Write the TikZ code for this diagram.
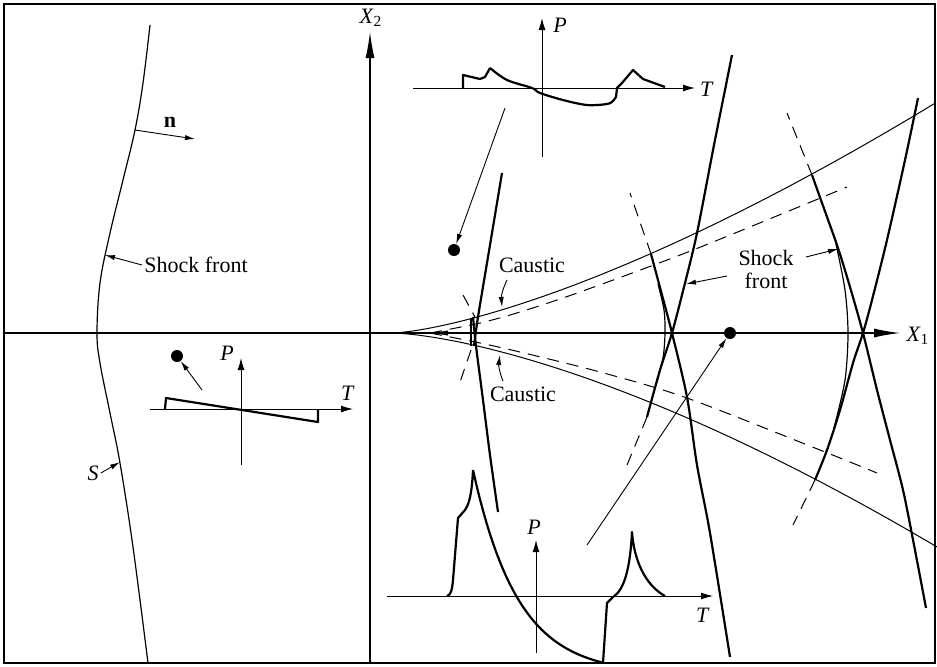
\documentclass[tikz,border=0pt]{standalone}
\usepackage{fontspec}
\setmainfont{Liberation Serif}
\usetikzlibrary{arrows.meta}

\begin{document}
\begin{tikzpicture}[
  x=0.5pt, y=-0.5pt,
  font=\fontsize{11}{11.5}\selectfont,
  inner sep=1pt,
  front/.style={line width=1.1pt},
  arcline/.style={line width=0.6pt},
  caustic/.style={line width=0.5pt},
  virtual/.style={line width=0.5pt, dash pattern=on 6pt off 4pt},
  wave/.style={line width=1.1pt, line join=round},
  axis/.style={line width=0.5pt, -{Latex[length=6pt,width=3.5pt]}},
  mainaxis/.style={line width=0.6pt, -{Latex[length=13pt,width=4.5pt]}},
  ptr/.style={line width=0.45pt, -{Latex[length=5pt,width=2.6pt]}},
  dot/.style={circle, fill, inner sep=0pt, minimum size=6pt}
]
\useasboundingbox (0,0) rectangle (937,666);
\draw[line width=0.7pt] (4,4) rectangle (935,663);

% main axes
\coordinate (x1start) at (4,333);
\coordinate (x1end) at (900,333);
\coordinate (x2start) at (370,663);
\coordinate (x2end) at (370,32);
\draw[mainaxis] (x1start) -- (x1end);
\draw[mainaxis] (x2start) -- (x2end);
\node (x1lab) at (918,336) {\textit{X}\textsubscript{1}};
\node (x2lab) at (371,18) {\textit{X}\textsubscript{2}};

% plane shock front S
\draw[line width=0.6pt] plot[smooth, tension=0.6] coordinates {(150,25) (143,83) (135,130) (123,180) (110,233) (100,283) (97,333) (100,363) (110,413) (120,463) (133,547) (148,663)};
\node (nlab) at (170,122) {\textbf{n}};
\coordinate (nfoot) at (135,130);
\coordinate (nhead) at (195,139);
\draw[ptr] (nfoot) -- (nhead);
\node (sfleft) at (196,265) {Shock front};
\coordinate (sftip) at (105,255);
\draw[ptr] (sfleft.west) -- (sftip);
\node (slab) at (93,473) {\textit{S}};
\coordinate (stip) at (120,462);
\draw[ptr] (slab.east) -- (stip);

% left signature
\draw[axis] (150,409) -- (353,409);
\draw[axis] (241,465) -- (241,358);
\node (tleft) at (348,393) {\textit{T}};
\node (pleft) at (227,353) {\textit{P}};
\draw[wave] (165,409) -- (166,398) -- (318,422) -- (318,409);
\node[dot] (ldot) at (177,356) {};
\coordinate (lfoot) at (202,390);
\draw[ptr] (lfoot) -- (ldot);

% caustics
\draw[caustic] plot[domain=0.2:542, samples=80] ({393+\x}, {333-20.5*(\x/100)^1.43});
\draw[caustic] plot[domain=0.2:544, samples=80] ({393+\x}, {333+16.75*(\x/100)^1.504});
\draw[virtual] plot[smooth] coordinates {(430,333) (480,323) (520,312) (580,292) (693,250) (847,187)};
\draw[virtual] plot[smooth] coordinates {(430,333) (480,343) (520,352) (600,372) (687,398) (825,452) (877,473)};
\fill (433,333) -- (448,330.5) -- (448,335.5) -- cycle;

% front near the cusp
\draw[front] plot[smooth] coordinates {(502,173) (490,245) (478,317) (474,346)};
\draw[front] plot[smooth] coordinates {(473,317) (476,346) (483,400) (490,455) (498,512)};
\draw[front] (471,318) -- (471,346);
\draw[virtual] (463,295) -- (475,317);
\draw[virtual] (471,350) -- (460,382);

% middle front
\draw[front] plot[smooth] coordinates {(732,55) (714,145) (697,233) (685,283) (672,333) (660,370) (647,417)};
\draw[front] plot[smooth] coordinates {(651,254) (662,295) (672,333) (687,397) (697,465) (710,533) (730,657)};
\draw[arcline] plot[smooth] coordinates {(658,284) (664,310) (665,333) (663,358) (656,385)};
\draw[virtual] (651,254) -- (630,193);
\draw[virtual] (647,417) -- (627,465);

% right front
\draw[front] plot[smooth] coordinates {(918,98) (905,160) (887,240) (872,300) (863,333) (853,363) (840,410) (827,450) (815,480)};
\draw[front] plot[smooth] coordinates {(812,175) (822,203) (838,248) (850,287) (863,333) (877,390) (890,440) (903,490) (914,545) (926,608)};
\draw[arcline] plot[smooth] coordinates {(836,244) (845,290) (848,333) (845,380) (834,428)};
\draw[virtual] (812,175) -- (787,113);
\draw[virtual] (815,480) -- (793,525);

% labels on the right
\node (caus1) at (532,265) {Caustic};
\coordinate (c1foot) at (507,280);
\coordinate (c1tip) at (502,307);
\draw[ptr] (c1foot) to[bend right=15] (c1tip);
\node (caus2) at (523,394) {Caustic};
\coordinate (c2foot) at (503,381);
\coordinate (c2tip) at (500,355);
\draw[ptr] (c2foot) to[bend left=15] (c2tip);
\node[align=center] (sfright) at (766,269) {Shock\\front};
\coordinate (sfafoot) at (727,276);
\coordinate (sfatip) at (686,284);
\draw[ptr] (sfafoot) -- (sfatip);
\coordinate (sfbfoot) at (806,257);
\coordinate (sfbtip) at (838,249);
\draw[ptr] (sfbfoot) -- (sfbtip);

% top signature
\draw[axis] (413,88) -- (695,88);
\draw[axis] (542,157) -- (542,18);
\node (ttop) at (707,89) {\textit{T}};
\node (ptop) at (560,25) {\textit{P}};
\draw[wave] (463,88) -- (463,75) -- (480,79) -- (485,77) -- (490,68)
  plot[smooth, tension=0.55] coordinates {(490,68) (507,80) (532,88) (540,93) (563,100) (587,105) (607,104) (613,101)}
  -- (616,97) -- (617,88) -- (622,83) -- (633,70) -- (643,79) -- (665,87);
\node[dot] (tdot) at (454,250) {};
\coordinate (tfoot) at (505,108);
\draw[ptr] (tfoot) -- (tdot);

% bottom signature
\draw[axis] (387,596) -- (713,596);
\draw[axis] (536,653) -- (536,540);
\node (tbot) at (703,615) {\textit{T}};
\node (pbot) at (534,527) {\textit{P}};
\draw[wave] (447,596) .. controls (451,595) and (452,590) .. (453,580) -- (458,518) -- (465,510)
  .. controls (470,503) and (472,490) .. (473,470)
  plot[domain=473:603, samples=40] (\x, {470+204*(1-exp(-(\x-473)/45))})
  -- (607,603) -- (613,597) .. controls (624,590) and (630,570) .. (632,532)
  .. controls (634,560) and (645,585) .. (665,596);
\node[dot] (bdot) at (730,333) {};
\coordinate (bfoot) at (587,545);
\draw[ptr] (bfoot) -- (bdot);
\end{tikzpicture}
\end{document}
